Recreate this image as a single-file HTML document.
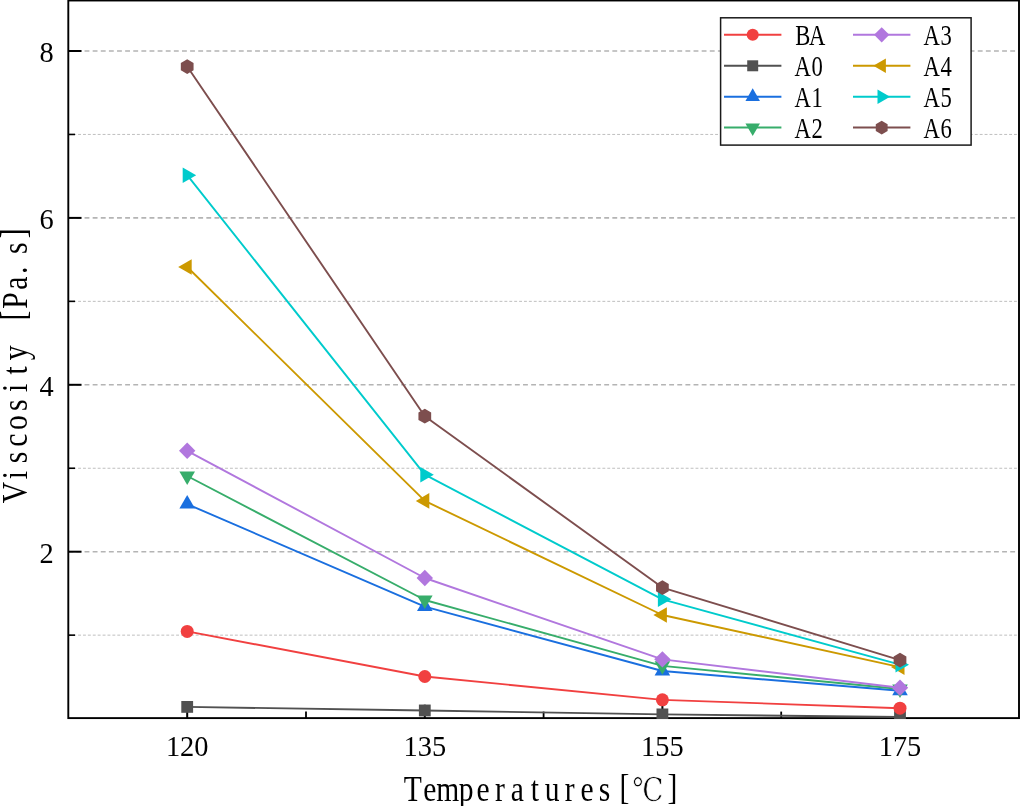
<!DOCTYPE html>
<html lang="en"><head><meta charset="utf-8"><title>Viscosity vs Temperatures</title>
<style>
html,body{margin:0;padding:0;background:#fff;}
body{width:1020px;height:806px;overflow:hidden;}
svg{display:block;will-change:transform;}
.tick{font-family:"Liberation Serif","Noto Serif CJK SC",serif;font-size:29.9px;fill:#000;}
.leg{font-family:"Liberation Serif","Noto Serif CJK SC",serif;font-size:29px;fill:#000;text-anchor:middle;}
.lab{font-family:"Liberation Serif","Noto Serif CJK SC",serif;font-size:34.8px;fill:#000;text-anchor:middle;}
</style></head><body>
<svg width="1020" height="806" viewBox="0 0 1020 806">
<rect x="0" y="0" width="1020" height="806" fill="#fff"/>
<defs><clipPath id="ax"><rect x="67.3" y="0" width="952.7" height="718.9"/></clipPath></defs>
<g fill="none">
<line x1="68.3" x2="1019.0" y1="551.70" y2="551.70" stroke="#b4b4b4" stroke-width="1.6" stroke-dasharray="4.87 3.25"/>
<line x1="68.3" x2="1019.0" y1="384.80" y2="384.80" stroke="#b4b4b4" stroke-width="1.6" stroke-dasharray="4.87 3.25"/>
<line x1="68.3" x2="1019.0" y1="217.90" y2="217.90" stroke="#b4b4b4" stroke-width="1.6" stroke-dasharray="4.87 3.25"/>
<line x1="68.3" x2="1019.0" y1="51.00" y2="51.00" stroke="#b4b4b4" stroke-width="1.6" stroke-dasharray="4.87 3.25"/>
<line x1="68.3" x2="1019.0" y1="635.15" y2="635.15" stroke="#bcbcbc" stroke-width="0.95" stroke-dasharray="2.9 2.0"/>
<line x1="68.3" x2="1019.0" y1="468.25" y2="468.25" stroke="#bcbcbc" stroke-width="0.95" stroke-dasharray="2.9 2.0"/>
<line x1="68.3" x2="1019.0" y1="301.35" y2="301.35" stroke="#bcbcbc" stroke-width="0.95" stroke-dasharray="2.9 2.0"/>
<line x1="68.3" x2="1019.0" y1="134.45" y2="134.45" stroke="#bcbcbc" stroke-width="0.95" stroke-dasharray="2.9 2.0"/>
</g>
<rect x="68.3" y="0.5" width="950.7" height="717.6" fill="none" stroke="#000" stroke-width="1.9"/>
<g stroke="#000" fill="none">
<line x1="68.3" x2="81.5" y1="551.70" y2="551.70" stroke-width="2"/>
<line x1="68.3" x2="81.5" y1="384.80" y2="384.80" stroke-width="2"/>
<line x1="68.3" x2="81.5" y1="217.90" y2="217.90" stroke-width="2"/>
<line x1="68.3" x2="81.5" y1="51.00" y2="51.00" stroke-width="2"/>
<line x1="68.3" x2="75.0" y1="635.15" y2="635.15" stroke-width="1.6"/>
<line x1="68.3" x2="75.0" y1="468.25" y2="468.25" stroke-width="1.6"/>
<line x1="68.3" x2="75.0" y1="301.35" y2="301.35" stroke-width="1.6"/>
<line x1="68.3" x2="75.0" y1="134.45" y2="134.45" stroke-width="1.6"/>
<line x1="187.2" x2="187.2" y1="717.9" y2="704.6999999999999" stroke-width="2"/>
<line x1="424.8" x2="424.8" y1="717.9" y2="704.6999999999999" stroke-width="2"/>
<line x1="662.4" x2="662.4" y1="717.9" y2="704.6999999999999" stroke-width="2"/>
<line x1="900.0" x2="900.0" y1="717.9" y2="704.6999999999999" stroke-width="2"/>
<line x1="306.00" x2="306.00" y1="717.9" y2="711.6" stroke-width="1.8"/>
<line x1="543.60" x2="543.60" y1="717.9" y2="711.6" stroke-width="1.8"/>
<line x1="781.20" x2="781.20" y1="717.9" y2="711.6" stroke-width="1.8"/>
</g>
<g clip-path="url(#ax)">
<polyline points="187.20,706.90 424.80,710.45 662.40,714.40 900.00,717.00" fill="none" stroke="#515151" stroke-width="1.9" stroke-linejoin="round"/>
<rect x="181.30" y="701.00" width="11.80" height="11.80" fill="#515151"/>
<rect x="418.90" y="704.55" width="11.80" height="11.80" fill="#515151"/>
<rect x="656.50" y="708.50" width="11.80" height="11.80" fill="#515151"/>
<rect x="894.10" y="711.10" width="11.80" height="11.80" fill="#515151"/>
<polyline points="187.20,631.40 424.80,676.50 662.40,699.85 900.00,708.20" fill="none" stroke="#F14040" stroke-width="1.9" stroke-linejoin="round"/>
<circle cx="187.20" cy="631.40" r="6.50" fill="#F14040"/>
<circle cx="424.80" cy="676.50" r="6.50" fill="#F14040"/>
<circle cx="662.40" cy="699.85" r="6.50" fill="#F14040"/>
<circle cx="900.00" cy="708.20" r="6.50" fill="#F14040"/>
<polyline points="187.20,504.10 424.80,606.60 662.40,671.00 900.00,690.70" fill="none" stroke="#1A6FDF" stroke-width="1.9" stroke-linejoin="round"/>
<polygon points="187.20,495.10 194.99,508.60 179.41,508.60" fill="#1A6FDF"/>
<polygon points="424.80,597.60 432.59,611.10 417.01,611.10" fill="#1A6FDF"/>
<polygon points="662.40,662.00 670.19,675.50 654.61,675.50" fill="#1A6FDF"/>
<polygon points="900.00,681.70 907.79,695.20 892.21,695.20" fill="#1A6FDF"/>
<polyline points="187.20,476.00 424.80,600.00 662.40,665.85 900.00,688.95" fill="none" stroke="#37AD6B" stroke-width="1.9" stroke-linejoin="round"/>
<polygon points="187.20,485.00 179.41,471.50 194.99,471.50" fill="#37AD6B"/>
<polygon points="424.80,609.00 417.01,595.50 432.59,595.50" fill="#37AD6B"/>
<polygon points="662.40,674.85 654.61,661.35 670.19,661.35" fill="#37AD6B"/>
<polygon points="900.00,697.95 892.21,684.45 907.79,684.45" fill="#37AD6B"/>
<polyline points="187.20,450.80 424.80,578.00 662.40,659.35 900.00,687.75" fill="none" stroke="#B177DE" stroke-width="1.9" stroke-linejoin="round"/>
<polygon points="187.20,442.60 195.40,450.80 187.20,459.00 179.00,450.80" fill="#B177DE"/>
<polygon points="424.80,569.80 433.00,578.00 424.80,586.20 416.60,578.00" fill="#B177DE"/>
<polygon points="662.40,651.15 670.60,659.35 662.40,667.55 654.20,659.35" fill="#B177DE"/>
<polygon points="900.00,679.55 908.20,687.75 900.00,695.95 891.80,687.75" fill="#B177DE"/>
<polyline points="187.20,267.00 424.80,500.90 662.40,615.00 900.00,667.10" fill="none" stroke="#CC9900" stroke-width="1.9" stroke-linejoin="round"/>
<polygon points="178.20,267.00 191.70,259.21 191.70,274.79" fill="#CC9900"/>
<polygon points="415.80,500.90 429.30,493.11 429.30,508.69" fill="#CC9900"/>
<polygon points="653.40,615.00 666.90,607.21 666.90,622.79" fill="#CC9900"/>
<polygon points="891.00,667.10 904.50,659.31 904.50,674.89" fill="#CC9900"/>
<polyline points="187.20,175.20 424.80,474.70 662.40,599.30 900.00,664.70" fill="none" stroke="#00CBCC" stroke-width="1.9" stroke-linejoin="round"/>
<polygon points="196.20,175.20 182.70,182.99 182.70,167.41" fill="#00CBCC"/>
<polygon points="433.80,474.70 420.30,482.49 420.30,466.91" fill="#00CBCC"/>
<polygon points="671.40,599.30 657.90,607.09 657.90,591.51" fill="#00CBCC"/>
<polygon points="909.00,664.70 895.50,672.49 895.50,656.91" fill="#00CBCC"/>
<polyline points="187.20,66.55 424.80,416.20 662.40,587.60 900.00,660.10" fill="none" stroke="#7D4E4E" stroke-width="1.9" stroke-linejoin="round"/>
<polygon points="187.20,59.20 193.57,62.88 193.57,70.22 187.20,73.90 180.83,70.22 180.83,62.88" fill="#7D4E4E"/>
<polygon points="424.80,408.85 431.17,412.52 431.17,419.88 424.80,423.55 418.43,419.88 418.43,412.52" fill="#7D4E4E"/>
<polygon points="662.40,580.25 668.77,583.93 668.77,591.27 662.40,594.95 656.03,591.27 656.03,583.93" fill="#7D4E4E"/>
<polygon points="900.00,652.75 906.37,656.43 906.37,663.77 900.00,667.45 893.63,663.77 893.63,656.43" fill="#7D4E4E"/>
</g>
<rect x="720.6" y="17.8" width="250.5" height="127.3" fill="#fff" stroke="#1a1a1a" stroke-width="1.5"/>
<line x1="724.0" x2="781.4" y1="34.8" y2="34.8" stroke="#F14040" stroke-width="2"/>
<circle cx="752.70" cy="34.80" r="6.04" fill="#F14040"/>
<text class="leg" transform="translate(795.5 44.7) scale(0.78 1)" x="9.29 27.88" y="0 0">BA</text>
<line x1="724.0" x2="781.4" y1="65.8" y2="65.8" stroke="#515151" stroke-width="2"/>
<rect x="747.21" y="60.31" width="10.97" height="10.97" fill="#515151"/>
<text class="leg" transform="translate(795.5 75.7) scale(0.78 1)" x="9.29 27.88" y="0 0">A0</text>
<line x1="724.0" x2="781.4" y1="96.7" y2="96.7" stroke="#1A6FDF" stroke-width="2"/>
<polygon points="752.70,88.33 759.95,100.89 745.45,100.89" fill="#1A6FDF"/>
<text class="leg" transform="translate(795.5 106.6) scale(0.78 1)" x="9.29 27.88" y="0 0">A1</text>
<line x1="724.0" x2="781.4" y1="127.6" y2="127.6" stroke="#37AD6B" stroke-width="2"/>
<polygon points="752.70,135.97 745.45,123.41 759.95,123.41" fill="#37AD6B"/>
<text class="leg" transform="translate(795.5 137.5) scale(0.78 1)" x="9.29 27.88" y="0 0">A2</text>
<line x1="853.0" x2="910.4" y1="34.8" y2="34.8" stroke="#B177DE" stroke-width="2"/>
<polygon points="881.70,27.17 889.33,34.80 881.70,42.43 874.07,34.80" fill="#B177DE"/>
<text class="leg" transform="translate(924.3 44.7) scale(0.78 1)" x="9.29 27.88" y="0 0">A3</text>
<line x1="853.0" x2="910.4" y1="65.8" y2="65.8" stroke="#CC9900" stroke-width="2"/>
<polygon points="873.33,65.80 885.88,58.55 885.88,73.05" fill="#CC9900"/>
<text class="leg" transform="translate(924.3 75.7) scale(0.78 1)" x="9.29 27.88" y="0 0">A4</text>
<line x1="853.0" x2="910.4" y1="96.7" y2="96.7" stroke="#00CBCC" stroke-width="2"/>
<polygon points="890.07,96.70 877.52,103.95 877.51,89.45" fill="#00CBCC"/>
<text class="leg" transform="translate(924.3 106.6) scale(0.78 1)" x="9.29 27.88" y="0 0">A5</text>
<line x1="853.0" x2="910.4" y1="127.6" y2="127.6" stroke="#7D4E4E" stroke-width="2"/>
<polygon points="881.70,120.76 887.62,124.18 887.62,131.02 881.70,134.44 875.78,131.02 875.78,124.18" fill="#7D4E4E"/>
<text class="leg" transform="translate(924.3 137.5) scale(0.78 1)" x="9.29 27.88" y="0 0">A6</text>
<text class="tick" transform="translate(187.2 756.3) scale(0.95 1)" text-anchor="middle">120</text>
<text class="tick" transform="translate(424.8 756.3) scale(0.95 1)" text-anchor="middle">135</text>
<text class="tick" transform="translate(662.4 756.3) scale(0.95 1)" text-anchor="middle">155</text>
<text class="tick" transform="translate(900.0 756.3) scale(0.95 1)" text-anchor="middle">175</text>
<text class="tick" transform="translate(53.6 563.0) scale(0.95 1)" text-anchor="end">2</text>
<text class="tick" transform="translate(53.6 396.1) scale(0.95 1)" text-anchor="end">4</text>
<text class="tick" transform="translate(53.6 229.2) scale(0.95 1)" text-anchor="end">6</text>
<text class="tick" transform="translate(53.6 62.3) scale(0.95 1)" text-anchor="end">8</text>
<text class="lab" transform="translate(404.3 800.9) scale(0.85 1)" x="9.88 30.12 51.18 72.71 92.71 112.59 133.06 153.53 174.00 194.47 214.94 235.41 258.94 286.59 315.41" y="0 0 0 0 0 0 0 0 0 0 0 0 -1.6 0 -1.6">Temperatures[<tspan font-family="DejaVu Serif" font-size="32.9" stroke="#fff" stroke-width="0.8">℃</tspan>]</text>
<text class="lab" transform="translate(27.2 501.2) rotate(-90) scale(0.85 1)" x="10.26 30.79 51.32 71.85 92.38 112.91 133.44 153.97 174.50 195.03 218.50 236.09 256.62 271.62 297.68 315.03" y="0 0 0 0 0 0 0 0 0 0 -2.6 0 0 0 0 -2.6">Viscosity [Pa.s]</text>
</svg></body></html>
